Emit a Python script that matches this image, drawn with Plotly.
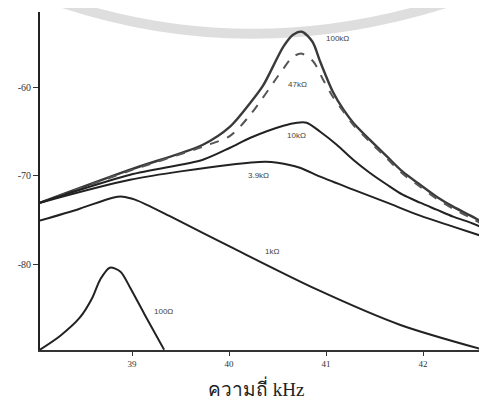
import plotly.graph_objects as go

# Frequency (kHz) / level (dB)
x_100k = [38.05, 38.98, 39.73, 40.01, 40.22, 40.35, 40.56, 40.66, 40.75, 40.86, 40.94, 41.07, 41.18, 41.28, 41.45, 41.63, 41.79, 41.97, 42.14, 42.31, 42.49, 42.66]
y_100k = [-73.05, -69.32, -66.50, -64.46, -61.75, -59.83, -55.42, -54.07, -53.73, -54.86, -57.12, -60.51, -62.54, -64.01, -65.93, -67.85, -69.55, -71.02, -72.37, -73.50, -74.52, -75.54]

x_47k = [38.05, 38.98, 39.73, 40.01, 40.22, 40.53, 40.66, 40.75, 40.87, 40.97, 41.07, 41.18, 41.28, 41.45, 41.63, 41.79, 41.97, 42.14, 42.31, 42.49, 42.66]
y_47k = [-73.05, -69.43, -66.72, -65.50, -63.10, -58.36, -56.55, -56.21, -57.12, -59.15, -61.07, -62.77, -64.24, -66.16, -68.08, -69.77, -71.24, -72.60, -73.73, -74.75, -75.76]

x_10k = [38.05, 38.98, 39.73, 40.01, 40.22, 40.56, 40.70, 40.80, 40.94, 41.11, 41.28, 41.45, 41.63, 41.79, 41.97, 42.14, 42.31, 42.49, 42.66]
y_10k = [-73.05, -69.89, -68.19, -66.84, -65.71, -64.35, -64.01, -64.01, -65.03, -66.50, -68.19, -69.66, -71.02, -72.15, -73.05, -73.84, -74.63, -75.31, -76.10]

x_3k9 = [38.05, 38.98, 40.01, 40.37, 40.50, 40.73, 40.94, 41.28, 41.63, 41.97, 42.31, 42.66]
y_3k9 = [-73.05, -70.45, -68.76, -68.42, -68.53, -69.10, -70.11, -71.58, -73.05, -74.52, -75.76, -77.01]

x_1k = [38.05, 38.46, 38.80, 38.90, 39.03, 39.42, 40.01, 40.91, 41.76, 42.62]
y_1k = [-75.08, -73.73, -72.49, -72.37, -72.71, -74.75, -78.02, -82.88, -86.84, -89.66]

x_100 = [38.05, 38.26, 38.46, 38.59, 38.67, 38.77, 38.88, 38.98, 39.13, 39.33]
y_100 = [-89.66, -88.08, -86.05, -83.79, -81.75, -80.40, -80.85, -82.66, -85.71, -89.66]

labels = ["100kΩ", "47kΩ", "10kΩ", "3.9kΩ", "1kΩ", "100Ω"]
label_x = [41.12, 40.71, 40.70, 40.30, 40.44, 39.32]
label_y = [-54.5, -59.7, -65.5, -70.0, -78.6, -85.4]

x_ticks = [39, 40, 41, 42]
y_ticks = [-60, -70, -80]
x_title = "ความถี่ kHz"

fig = go.Figure()
series = [
    (x_100k, y_100k, "solid", "#3a3a3a", 2.4),
    (x_47k, y_47k, "dash", "#555555", 2.0),
    (x_10k, y_10k, "solid", "#222222", 2.0),
    (x_3k9, y_3k9, "solid", "#222222", 2.0),
    (x_1k, y_1k, "solid", "#222222", 2.0),
    (x_100, y_100, "solid", "#222222", 2.0),
]
for (xs, ys, dash, col, w), name in zip(series, labels):
    fig.add_trace(go.Scatter(x=xs, y=ys, mode="lines", name=name,
                             line=dict(color=col, width=w, dash=dash, shape="spline", smoothing=0.8),
                             showlegend=False, hoverinfo="skip"))

for t, lx, ly in zip(labels, label_x, label_y):
    fig.add_annotation(x=lx, y=ly, text=t, showarrow=False,
                       font=dict(family="Liberation Sans", size=8, color="#444444"))

fig.add_annotation(x=0.483, y=-0.112, xref="paper", yref="paper", text=x_title,
                   showarrow=False, yanchor="middle",
                   font=dict(family="Liberation Serif, Noto Sans", size=19, color="#222222"))

# faint watermark arc
fig.add_shape(type="path", xref="paper", yref="paper", layer="below",
              path="M 0.03,1.036 Q 0.47,0.835 0.93,1.036",
              line=dict(color="#dedede", width=10))

# page body has an 8px margin, so the figure is sized/offset to compensate
fig.update_layout(
    width=479, height=396,
    margin=dict(l=32, r=0, t=4, b=54),
    paper_bgcolor="white", plot_bgcolor="white",
    xaxis=dict(range=[38.05, 42.66], tickvals=x_ticks, ticktext=[str(v) for v in x_ticks],
               showgrid=False, zeroline=False, showline=True, linecolor="#333333", linewidth=1.5,
               ticks="outside", ticklen=4, tickcolor="#333333",
               tickfont=dict(family="Liberation Serif", size=9, color="#333333")),
    yaxis=dict(range=[-89.7, -51.5], tickvals=y_ticks, ticktext=["-60", "-70", "-80"],
               showgrid=False, zeroline=False, showline=True, linecolor="#222222", linewidth=2,
               ticks="outside", ticklen=5, tickcolor="#333333",
               tickfont=dict(family="Liberation Serif", size=10, color="#333333")),
)

fig.write_html("out.html")
